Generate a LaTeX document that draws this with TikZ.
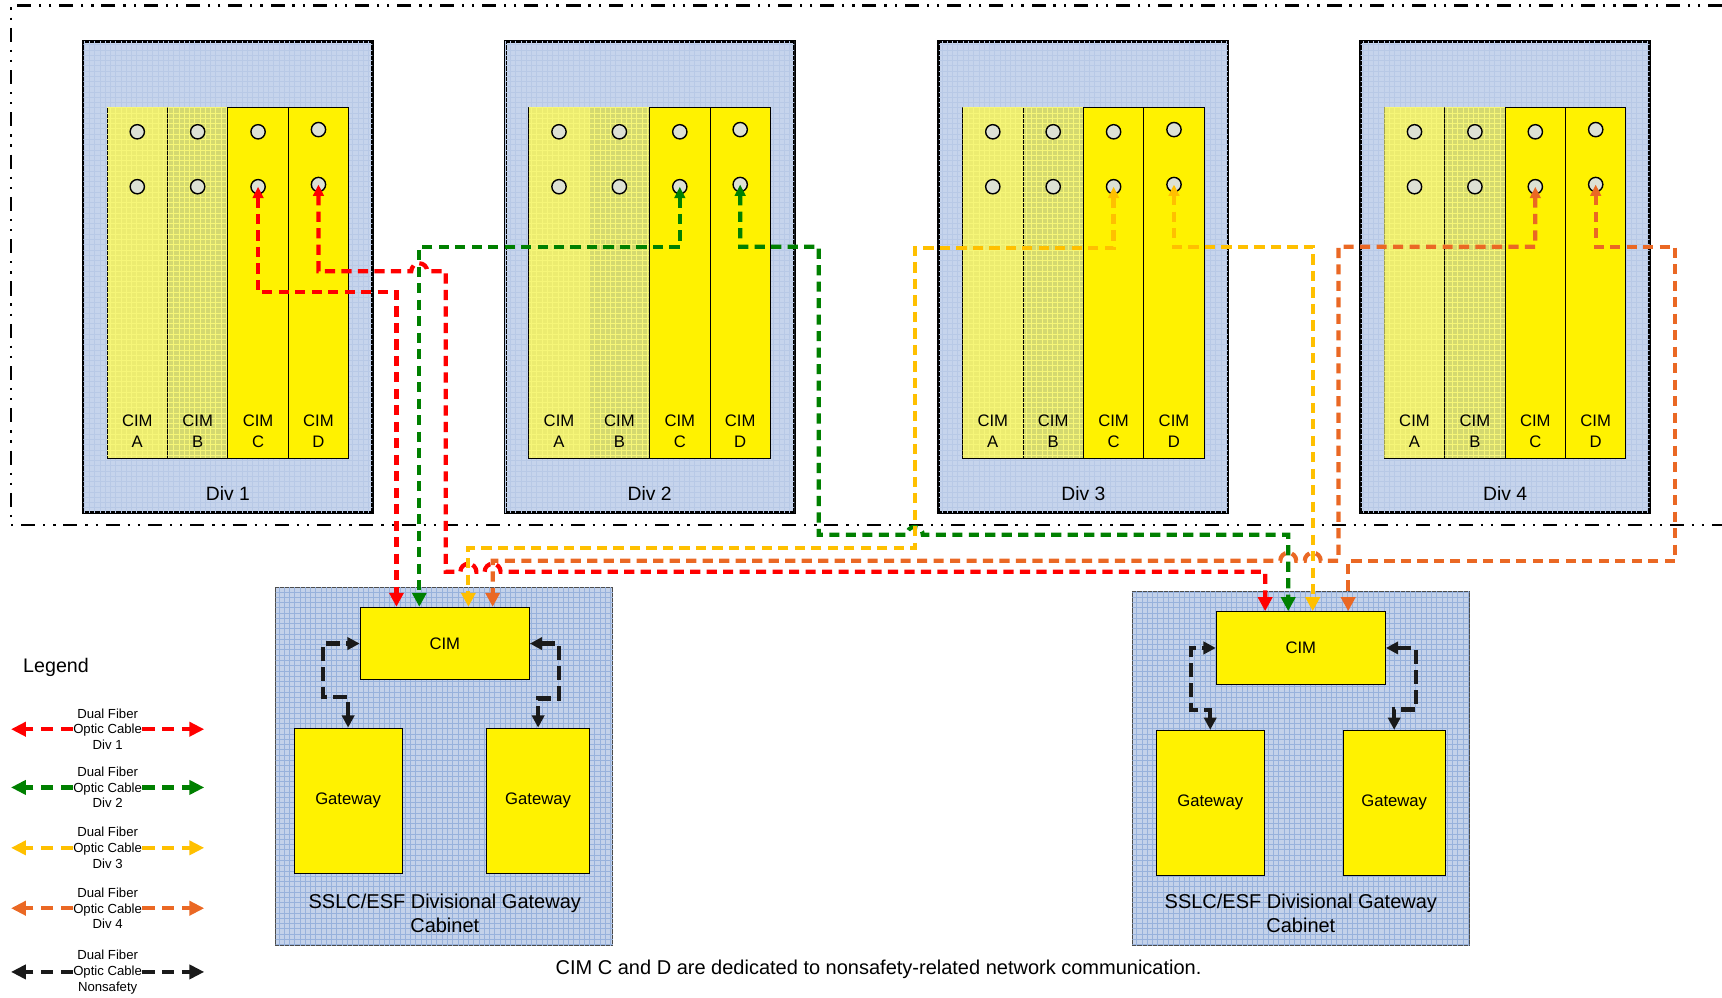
\documentclass[tikz,border=0pt]{standalone}
\usepackage{fontspec}
\setmainfont{Liberation Sans}
\usetikzlibrary{arrows.meta,patterns}
\definecolor{divblue}{RGB}{198,212,236}
\definecolor{divgrid}{RGB}{184,201,230}
\definecolor{cabblue}{RGB}{196,210,234}
\definecolor{cabgrid}{RGB}{152,178,220}
\definecolor{cimpale}{RGB}{236,236,112}
\definecolor{cimolive}{RGB}{212,217,112}
\definecolor{yelgrid}{RGB}{246,246,120}
\definecolor{portgray}{RGB}{221,225,212}
\definecolor{fibred}{RGB}{255,0,0}
\definecolor{fibgreen}{RGB}{0,128,0}
\definecolor{fibyellow}{RGB}{255,192,0}
\definecolor{fiborange}{RGB}{234,104,36}
\definecolor{fibblack}{RGB}{26,26,26}
\def\pxu{0.022cm}

\begin{document}
\begin{tikzpicture}[x=\pxu,y=-\pxu,font=\fontsize{9.5}{11.9}\selectfont,
divbox/.style={draw=black,line width=1.7pt,fill=divblue,postaction={pattern=grid,pattern color=divgrid},minimum width=263*\pxu,minimum height=429*\pxu,inner sep=0pt},
slotA/.style={draw=black,line width=.5pt,fill=cimpale,postaction={pattern=grid,pattern color=yelgrid},minimum width=55*\pxu,minimum height=319*\pxu,inner sep=0pt},
slotB/.style={slotA,fill=cimolive},
slotC/.style={draw=black,line width=.5pt,fill=yellow,minimum width=55*\pxu,minimum height=319*\pxu,inner sep=0pt},
slotD/.style={slotC},
port/.style={circle,draw=black,line width=.8pt,fill=portgray,minimum size=13*\pxu,inner sep=0pt},
divlbl/.style={font=\fontsize{11}{13}\selectfont},
slotlbl/.style={align=center,inner sep=0pt},
cabinet/.style={draw=black!70,line width=.6pt,fill=cabblue,postaction={pattern=grid,pattern color=cabgrid},inner sep=0pt},
ybox/.style={draw=black,line width=.6pt,fill=yellow,inner sep=0pt},
cablbl/.style={align=center,font=\fontsize{11.4}{13.8}\selectfont},
frame/.style={draw=black,line width=1.3pt,dash pattern=on 8pt off 4.5pt on 1.3pt off 4.5pt on 1.3pt off 4.5pt},
fibre/.style={line width=2.4pt,dash pattern=on 5.8pt off 3.6pt,{Triangle[length=6.5pt,width=6pt]}-{Triangle[length=8pt,width=8pt]}},
fib1/.style={fibre,draw=fibred},
fib2/.style={fibre,draw=fibgreen},
fib3/.style={fibre,draw=fibyellow},
fib4/.style={fibre,draw=fiborange},
nsafe/.style={draw=fibblack,line width=2.4pt,dash pattern=on 8pt off 3.5pt,{Triangle[length=7pt,width=7pt]}-{Triangle[length=7pt,width=7pt]}},
lgtxt/.style={align=center,inner sep=0pt,font=\fontsize{7.5}{9}\selectfont},
lgline/.style={line width=2.4pt,dash pattern=on 7pt off 4.3pt,-{Triangle[length=8.5pt,width=8pt]}}]

\useasboundingbox (0,0) rectangle (1568,908);
\draw[frame] (1568,5) -| (10,478) -- (1568,478);

\foreach \n/\x in {1/76,2/460,3/855,4/1239}{
  \node[divbox] (div\n) at (\x+131.5,252.5) {};
  \node[divlbl] (dl\n) at (\x+131.5,449) {Div \n};
  \foreach \s/\dy [count=\k from 0] in {A/0,B/0,C/0,D/-2}{
    \node[slot\s] (s\n\s) at (\x+49+55*\k,257.5) {};
    \node[port] (t\n\s) at (\x+49+55*\k,120+\dy) {};
    \node[port] (c\n\s) at (\x+49+55*\k,170+\dy) {};
    \node[slotlbl] (l\n\s) at (\x+49+55*\k,392.5) {CIM\\\s};
  }
}

\node[cabinet,minimum width=307*\pxu,minimum height=326*\pxu] (cabL) at (404.5,698) {};
\node[cabinet,minimum width=307*\pxu,minimum height=322*\pxu] (cabR) at (1184.5,700) {};
\node[ybox,minimum width=154*\pxu,minimum height=66*\pxu] (cimL) at (405,586) {CIM};
\node[ybox,minimum width=154*\pxu,minimum height=66*\pxu] (cimR) at (1184.5,590) {CIM};
\node[ybox,minimum width=98.5*\pxu,minimum height=132*\pxu] (gwL1) at (317,729) {Gateway};
\node[ybox,minimum width=93.5*\pxu,minimum height=132*\pxu] (gwL2) at (490,729) {Gateway};
\node[ybox,minimum width=98.5*\pxu,minimum height=132*\pxu] (gwR1) at (1102,731) {Gateway};
\node[ybox,minimum width=93*\pxu,minimum height=132*\pxu] (gwR2) at (1269.5,731) {Gateway};
\node[cablbl] (capL) at (405,832) {SSLC/ESF Divisional Gateway\\Cabinet};
\node[cablbl] (capR) at (1184.5,832) {SSLC/ESF Divisional Gateway\\Cabinet};

\draw[nsafe] (gwL1.north) |- (294,635) |- (cimL.west);
\draw[nsafe] (cimL.east) -| (509,636) -| (gwL2.north);
\draw[nsafe] (gwR1.north) |- (1084.5,646.5) |- (cimR.west);
\draw[nsafe] (cimR.east) -| (1289,646) -| (gwR2.north);

\draw[fib1] (c1C.center) |- (361,266) -- (cimL.north -| 361,0);
\draw[fib1] (c1D.center) |- (374.5,247) arc[start angle=180,end angle=0,radius=1.6mm] -- (405.8,247) -- (405.8,520.6) -- (419.2,520.6) arc[start angle=180,end angle=0,radius=1.6mm] -- (441.3,520.6) arc[start angle=180,end angle=0,radius=1.6mm] -- (1152,520.6) -- (cimR.north -| 1152,0);
\draw[fib2] (c2C.center) |- (381.8,224.6) -- (cimL.north -| 381.8,0);
\draw[fib2] (c2D.center) |- (745.5,224.6) |- (825.7,487) arc[start angle=180,end angle=0,radius=1.6mm] -- (1173,487) -- (cimR.north -| 1173,0);
\draw[fib3] (c3C.center) |- (833,226) |- (426.5,499.3) -- (cimL.north -| 426.5,0);
\draw[fib3] (c3D.center) |- (1195.3,224.6) -- (cimR.north -| 1195.3,0);
\draw[fib4] (c4C.center) |- (1218.7,224.6) |- (1202.6,510.6) arc[start angle=0,end angle=180,radius=1.6mm] -- (1180.3,510.6) arc[start angle=0,end angle=180,radius=1.6mm] -- (448.6,510.6) -- (cimL.north -| 448.6,0);
\draw[fib4] (c4D.center) |- (1525.3,224.6) |- (1227.6,510.6) -- (cimR.north -| 1227.6,0);

\node[font=\fontsize{11.2}{13}\selectfont] (lgd) at (51,608) {Legend};
\foreach \y/\c/\t [count=\n] in {664/fibred/Div 1,717/fibgreen/Div 2,772/fibyellow/Div 3,827/fiborange/Div 4,885/fibblack/Nonsafety}{
  \node[lgtxt] (lg\n) at (98,\y) {Dual Fiber\\Optic Cable\\\t};
  \coordinate (lgw\n) at (10,\y);
  \coordinate (lge\n) at (186,\y);
  \draw[lgline,draw=\c] (lg\n.west) -- (lgw\n);
  \draw[lgline,draw=\c] (lg\n.east) -- (lge\n);
}
\node[font=\fontsize{11.4}{13.7}\selectfont] (note) at (800,883) {CIM C and D are dedicated to nonsafety-related network communication.};
\end{tikzpicture}
\end{document}
